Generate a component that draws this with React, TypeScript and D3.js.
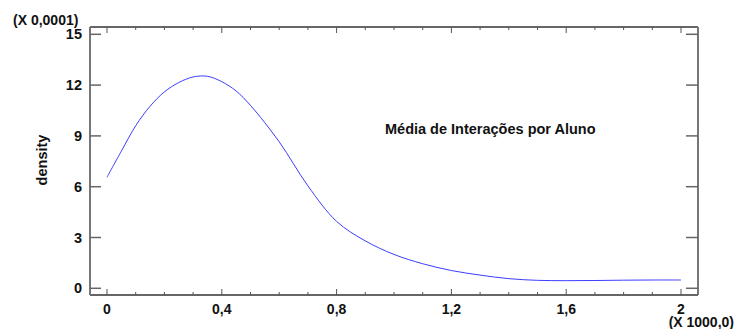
import React from "react";
import { scaleLinear, line, curveCatmullRom, range } from "d3";

// density curve, x in units of 1000, y in units of 0.0001
const xValues = [0, 0.05, 0.1, 0.15, 0.2, 0.25, 0.3, 0.35, 0.4, 0.45, 0.5, 0.6, 0.7, 0.8, 0.9, 1.0, 1.1, 1.2, 1.3, 1.4, 1.5, 1.6, 1.7, 1.8, 1.9, 2.0];
const densityValues = [6.56, 8.1, 9.6, 10.75, 11.6, 12.15, 12.48, 12.52, 12.2, 11.65, 10.8, 8.65, 6.05, 3.95, 2.8, 2.0, 1.45, 1.05, 0.78, 0.57, 0.47, 0.45, 0.46, 0.48, 0.49, 0.49];
const xMajorTicks = [0, 0.4, 0.8, 1.2, 1.6, 2];
const xTickLabels = ["0", "0,4", "0,8", "1,2", "1,6", "2"];
const yTicks = [0, 3, 6, 9, 12, 15];

const W = 734;
const H = 329;
const frame = { left: 90, right: 698, top: 27, bottom: 295 };
const font = "'Liberation Sans', Arial, sans-serif";

const App = () => {
  const x = scaleLinear().domain([0, 2]).range([107, 681]);
  const y = scaleLinear().domain([0, 15]).range([288.3, 34.3]);

  const pts = xValues.map((v, i) => [v, densityValues[i]] as [number, number]);
  const path = line<[number, number]>()
    .x((d) => x(d[0]))
    .y((d) => y(d[1]))
    .curve(curveCatmullRom.alpha(0.5))(pts);

  const minor = range(0, 21).map((i) => i / 10);

  return (
    <svg width={W} height={H} style={{ position: "absolute", left: 0, top: 0, background: "#fff" }}>
      {/* frame */}
      <line x1={frame.left} x2={frame.right} y1={frame.top} y2={frame.top} stroke="#333" strokeWidth={1.5} />
      <line x1={frame.left} x2={frame.right} y1={frame.bottom} y2={frame.bottom} stroke="#333" strokeWidth={1.5} />
      <line x1={frame.left} x2={frame.left} y1={frame.top} y2={frame.bottom} stroke="#777" strokeWidth={2} />
      <line x1={frame.right} x2={frame.right} y1={frame.top} y2={frame.bottom} stroke="#777" strokeWidth={2} />

      {/* x ticks, bottom and top */}
      {minor.map((v) => {
        const major = Math.abs(v / 0.4 - Math.round(v / 0.4)) < 1e-6;
        const len = major ? 6 : 3;
        return (
          <g key={v} stroke="#555" strokeWidth={1}>
            <line x1={x(v)} x2={x(v)} y1={frame.bottom} y2={frame.bottom - len} />
            <line x1={x(v)} x2={x(v)} y1={frame.top} y2={frame.top + len} />
          </g>
        );
      })}
      {xMajorTicks.map((v, i) => (
        <text key={v} x={x(v)} y={314} textAnchor="middle" fontFamily={font} fontWeight="bold" fontSize={14} fill="#111">
          {xTickLabels[i]}
        </text>
      ))}

      {/* y ticks, left and right */}
      {yTicks.map((v) => (
        <g key={v}>
          <line x1={frame.left} x2={frame.left + 11} y1={y(v)} y2={y(v)} stroke="#666" strokeWidth={1.5} />
          <line x1={frame.right - 12} x2={frame.right} y1={y(v)} y2={y(v)} stroke="#666" strokeWidth={1.5} />
          <text x={82} y={y(v) + 5} textAnchor="end" fontFamily={font} fontWeight="bold" fontSize={14.5} fill="#111">
            {v}
          </text>
        </g>
      ))}

      {/* curve */}
      <path d={path || ""} fill="none" stroke="#3d3dff" strokeWidth={1} />

      {/* labels */}
      <text x={13} y={25} fontFamily={font} fontWeight="bold" fontSize={14} fill="#111">(X 0,0001)</text>
      <text x={734} y={327} textAnchor="end" fontFamily={font} fontWeight="bold" fontSize={14} fill="#111">(X 1000,0)</text>
      <text transform="translate(47,160) rotate(-90)" textAnchor="middle" fontFamily={font} fontWeight="bold" fontSize={14.5} fill="#111">density</text>
      <text x={385} y={134} fontFamily={font} fontWeight="bold" fontSize={14.5} fill="#111">Média de Interações por Aluno</text>
    </svg>
  );
};

export default App;
